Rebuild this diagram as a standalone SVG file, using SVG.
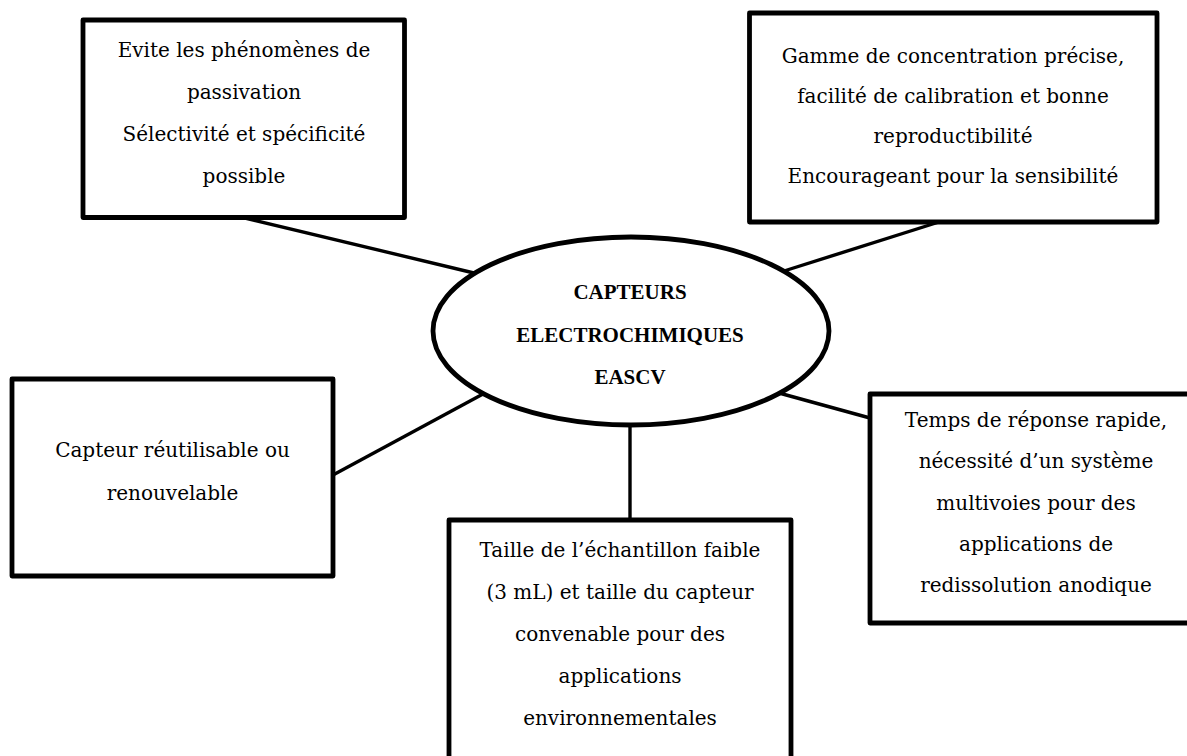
<svg xmlns="http://www.w3.org/2000/svg" width="1187" height="756" viewBox="0 0 1187 756">
<style>
.box{fill:#fff;stroke:#000;stroke-width:4.8;stroke-linejoin:round}
.t{font-family:"DejaVu Serif","Liberation Serif",serif;font-size:20px;fill:#000;text-anchor:middle}
.b{font-family:"Liberation Serif","DejaVu Serif",serif;font-size:21px;font-weight:bold;fill:#000;text-anchor:middle}
.c{stroke:#000;stroke-width:3.4;fill:none;stroke-linecap:butt}
</style>
<rect width="1187" height="756" fill="#fff"/>
<g id="connectors">
<line class="c" x1="245" y1="218" x2="474" y2="273"/>
<line class="c" x1="939" y1="222" x2="784" y2="271"/>
<line class="c" x1="333" y1="475" x2="483" y2="394"/>
<line class="c" x1="779" y1="393" x2="870" y2="418"/>
<line class="c" x1="630" y1="424" x2="630" y2="520"/>
</g>
<g id="center">
<ellipse cx="631" cy="331" rx="198" ry="94" fill="#fff" stroke="#000" stroke-width="4.8"/>
<text class="b" x="630" y="299">CAPTEURS</text>
<text class="b" x="630" y="342">ELECTROCHIMIQUES</text>
<text class="b" x="630" y="384">EASCV</text>
</g>
<g id="node-passivation">
<rect class="box" x="83" y="20" width="321.5" height="197.5"/>
<text class="t" x="244" y="57">Evite les phénomènes de</text>
<text class="t" x="244" y="99">passivation</text>
<text class="t" x="244" y="141">Sélectivité et spécificité</text>
<text class="t" x="244" y="183">possible</text>
</g>
<g id="node-gamme">
<rect class="box" x="749.5" y="13" width="407.5" height="209"/>
<text class="t" x="953" y="63">Gamme de concentration précise,</text>
<text class="t" x="953" y="103">facilité de calibration et bonne</text>
<text class="t" x="953" y="143">reproductibilité</text>
<text class="t" x="953" y="183">Encourageant pour la sensibilité</text>
</g>
<g id="node-capteur">
<rect class="box" x="12" y="379" width="321" height="197"/>
<text class="t" x="172.5" y="457">Capteur réutilisable ou</text>
<text class="t" x="172.5" y="500">renouvelable</text>
</g>
<g id="node-temps">
<rect class="box" x="870" y="394" width="340" height="229"/>
<text class="t" x="1036" y="427">Temps de réponse rapide,</text>
<text class="t" x="1036" y="468">nécessité d’un système</text>
<text class="t" x="1036" y="509.5">multivoies pour des</text>
<text class="t" x="1036" y="551">applications de</text>
<text class="t" x="1036" y="592">redissolution anodique</text>
</g>
<g id="node-taille">
<rect class="box" x="449" y="520" width="342" height="260"/>
<text class="t" x="620" y="557">Taille de l’échantillon faible</text>
<text class="t" x="620" y="599">(3 mL) et taille du capteur</text>
<text class="t" x="620" y="641">convenable pour des</text>
<text class="t" x="620" y="683">applications</text>
<text class="t" x="620" y="725">environnementales</text>
</g>
</svg>
